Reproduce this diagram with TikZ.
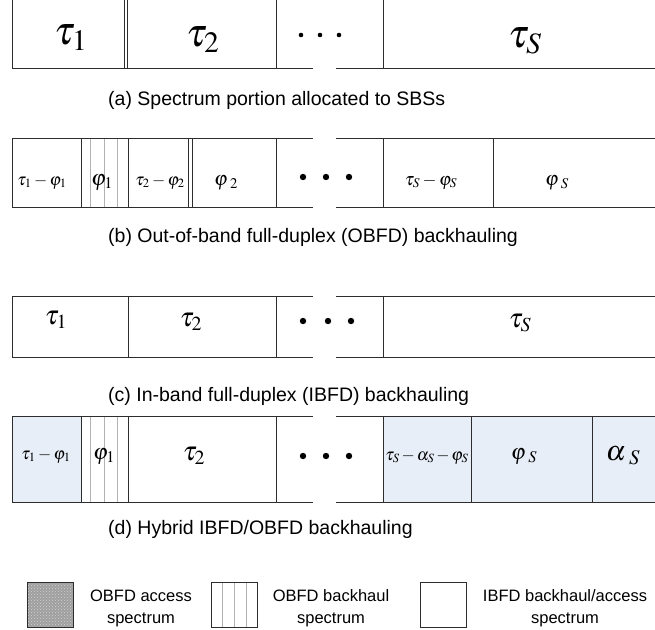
\documentclass[tikz,border=0pt]{standalone}
\usepackage{mathptmx}
\usepackage{fontspec}
\setmainfont{Liberation Sans}
\usetikzlibrary{patterns}
\definecolor{cellblue}{RGB}{232,238,247}
\definecolor{lnc}{RGB}{45,45,45}
\definecolor{stripec}{RGB}{178,178,178}
\tikzset{
  ln/.style={draw=lnc, line width=1pt},
  stl/.style={draw=stripec, line width=1pt},
  mt/.style={inner sep=0pt, anchor=base},
  captext/.style={inner sep=0pt, anchor=west, font=\fontsize{19.5}{22}\selectfont},
  legtext/.style={inner sep=0pt, align=center, font=\fontsize{16.5}{22}\selectfont},
  dotsm/.style={fill=black, draw=none},
}
\begin{document}
\begin{tikzpicture}[x=1pt,y=-1pt]
\useasboundingbox (0,0) rectangle (655,629);

% ---------------- row (a)
\draw[ln] (12,0) -- (12,68) (124,0) -- (124,68) (127,0) -- (127,68)
          (276,0) -- (276,68) (383,0) -- (383,68);
\draw[ln] (12,68) -- (313,68) (336,68) -- (655,68);
\node[mt, font=\fontsize{40}{44}\selectfont] (a1) at (71,44) {$\tau_1$};
\node[mt, font=\fontsize{40}{44}\selectfont] (a2) at (203,46) {$\tau_2$};
\node[mt, font=\fontsize{40}{44}\selectfont] (aS) at (525,47) {$\tau_S$};
\fill[dotsm] (301,35) circle (2.3) (320,35) circle (2.3) (339,35) circle (2.3);
\node[captext] (capa) at (108,100) {(a) Spectrum portion allocated to SBSs};

% ---------------- row (b)
\draw[stl] (90,138) -- (90,207) (104,138) -- (104,207) (117,138) -- (117,207);
\draw[ln] (12,138) -- (12,207) (81,138) -- (81,207) (128,138) -- (128,207)
          (188,138) -- (188,207) (192,138) -- (192,207) (276,138) -- (276,207)
          (383,138) -- (383,207) (493,138) -- (493,207);
\draw[ln] (12,138) -- (313,138) (336,138) -- (655,138);
\draw[ln] (12,207) -- (313,207) (336,207) -- (655,207);
\node[mt, font=\fontsize{17}{20}\selectfont] (b1) at (42,185) {$\tau_1-\varphi_1$};
\node[mt, font=\fontsize{22}{24}\selectfont] (b2) at (102,185) {$\varphi_1$};
\node[mt, font=\fontsize{17}{20}\selectfont] (b3) at (160,185) {$\tau_2-\varphi_2$};
\node[mt, font=\fontsize{20}{24}\selectfont] (b4) at (226,185) {$\varphi\,{}_2$};
\fill[dotsm] (303,177) circle (3.2) (326,177) circle (3.2) (349,177) circle (3.2);
\node[mt, font=\fontsize{18}{20}\selectfont] (b5) at (431,185) {$\tau_S-\varphi_S$};
\node[mt, font=\fontsize{20}{24}\selectfont] (b6) at (557,185) {$\varphi\,{}_S$};
\node[captext] (capb) at (108,237) {(b) Out-of-band full-duplex (OBFD) backhauling};

% ---------------- row (c)
\draw[ln] (12,296) -- (12,357) (128,296) -- (128,357) (276,296) -- (276,357)
          (383,296) -- (383,357);
\draw[ln] (12,296) -- (313,296) (336,296) -- (655,296);
\draw[ln] (12,357) -- (313,357) (336,357) -- (655,357);
\node[mt, font=\fontsize{27}{30}\selectfont] (c1) at (56,324) {$\tau_1$};
\node[mt, font=\fontsize{27}{30}\selectfont] (c2) at (191,326) {$\tau_2$};
\fill[dotsm] (303,321) circle (3.2) (328,321) circle (3.2) (351,321) circle (3.2);
\node[mt, font=\fontsize{27}{30}\selectfont] (cS) at (520,327) {$\tau_S$};
\node[captext] (capc) at (108,396) {(c) In-band full-duplex (IBFD) backhauling};

% ---------------- row (d)
\fill[cellblue] (12,416) rectangle (81,502);
\fill[cellblue] (383,416) rectangle (655,502);
\draw[stl] (90,416) -- (90,502) (104,416) -- (104,502) (117,416) -- (117,502);
\draw[ln] (12,416) -- (12,502) (81,416) -- (81,502) (128,416) -- (128,502)
          (276,416) -- (276,502) (383,416) -- (383,502) (471,416) -- (471,502)
          (592,416) -- (592,502);
\draw[ln] (12,416) -- (313,416) (336,416) -- (655,416);
\draw[ln] (12,502) -- (313,502) (336,502) -- (655,502);
\node[mt, font=\fontsize{17}{20}\selectfont] (d1) at (46,459) {$\tau_1-\varphi_1$};
\node[mt, font=\fontsize{22}{24}\selectfont] (d2) at (104,459) {$\varphi_1$};
\node[mt, font=\fontsize{27}{30}\selectfont] (d3) at (194,460) {$\tau_2$};
\fill[dotsm] (303,456) circle (3.2) (326,456) circle (3.2) (349,456) circle (3.2);
\node[mt, font=\fontsize{17}{20}\selectfont] (d4) at (427,460) {$\tau_S\,{-}\,\alpha_S\,{-}\,\varphi_S$};
\node[mt, font=\fontsize{22}{24}\selectfont] (d5) at (524,459) {$\varphi\,{}_S$};
\node[mt, font=\fontsize{28}{30}\selectfont] (d6) at (623,460) {$\alpha\,{}_S$};
\node[captext] (capd) at (108,529) {(d) Hybrid IBFD/OBFD backhauling};

% ---------------- legend
\fill[gray!75] (27,582) rectangle (73,627);
\fill[pattern=crosshatch dots, pattern color=gray!35] (27,582) rectangle (73,627);
\draw[ln] (27,582) rectangle (73,627);
\node[legtext] (l1) at (141,608) {OBFD access\\spectrum};

\draw[stl] (222,582) -- (222,627) (234,582) -- (234,627) (246,582) -- (246,627);
\draw[ln] (211,582) rectangle (257,627);
\node[legtext] (l2) at (331,608) {OBFD backhaul\\spectrum};

\draw[ln] (420,582) rectangle (466,627);
\node[legtext] (l3) at (565,608) {IBFD backhaul/access\\spectrum};
\end{tikzpicture}
\end{document}
